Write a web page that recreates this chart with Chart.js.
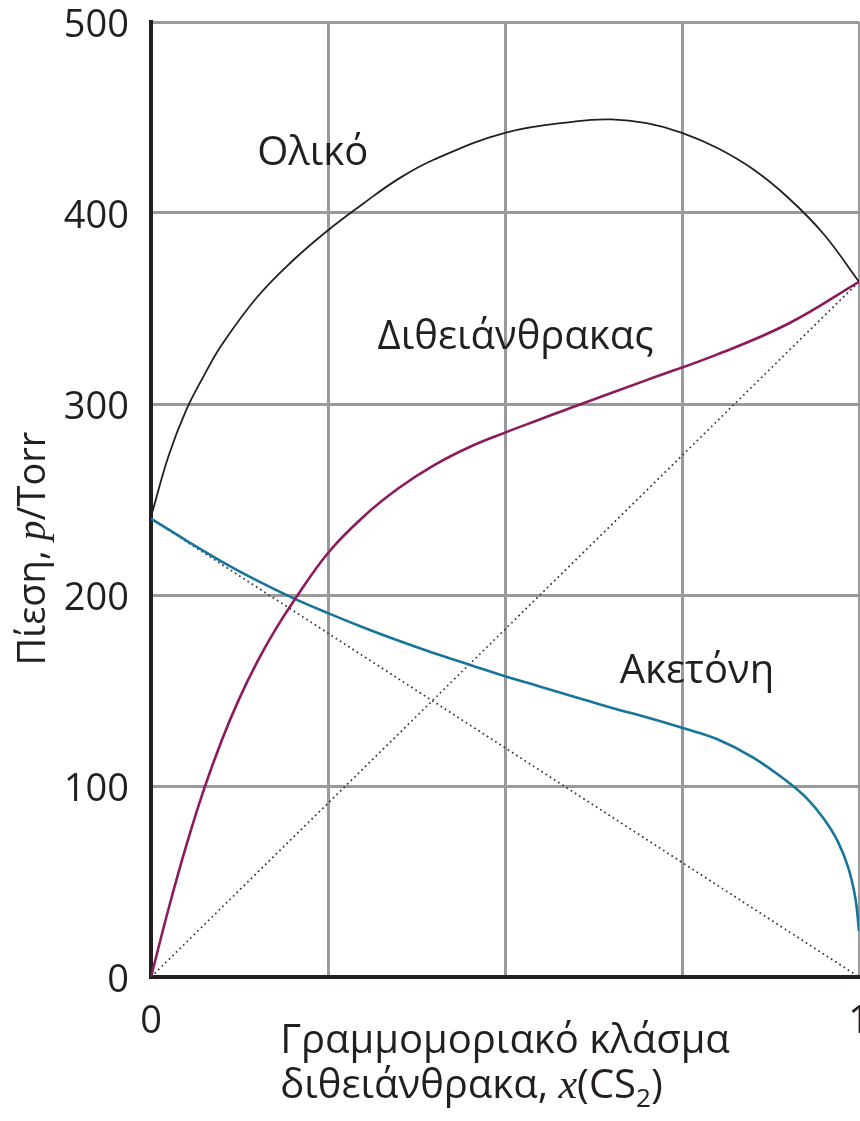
<!DOCTYPE html>
<html lang="el">
<head>
<meta charset="utf-8">
<script src="https://cdn.jsdelivr.net/npm/chart.js@4.4.1/dist/chart.umd.min.js"></script>
<style>
  html, body { margin: 0; padding: 0; background: #ffffff; }
  #wrap { width: 860px; height: 1121px; }
</style>
</head>
<body>
<div id="wrap"><canvas id="chart" width="860" height="1121"></canvas></div>
<script>
// Vapour pressure (Torr) against mole fraction of CS2 in the liquid
const xTotal = [0, 0.025, 0.05, 0.075, 0.1, 0.15, 0.2, 0.25, 0.3, 0.35, 0.4, 0.5, 0.6, 0.65, 0.7, 0.75, 0.8, 0.85, 0.9, 0.95, 1.0];
const pTotal = [241, 273, 297, 315, 331, 356, 375, 391, 405, 418, 428, 442, 448, 449, 447, 442, 434, 423, 408, 389, 364];

const xCS2 = [0, 0.025, 0.05, 0.075, 0.1, 0.125, 0.15, 0.175, 0.2, 0.25, 0.3, 0.35, 0.4, 0.45, 0.5, 0.55, 0.6, 0.7, 0.8, 0.9, 1.0];
const pCS2 = [0, 36, 69, 98.5, 124, 146, 165, 181.5, 196, 222, 241, 256, 268, 277.5, 285, 292, 299, 312.5, 326, 342, 364];

const xAcetone = [0, 0.05, 0.1, 0.15, 0.2, 0.25, 0.3, 0.35, 0.4, 0.45, 0.5, 0.55, 0.6, 0.65, 0.7, 0.75, 0.8, 0.85, 0.9, 0.925, 0.95, 0.97, 0.985, 0.995, 1.0];
const pAcetone = [240, 228.5, 217.5, 207.5, 198.5, 190.5, 183, 176, 169.5, 163.5, 157.5, 152, 146.5, 141, 136, 130.5, 124.5, 115, 102, 94, 83, 71, 57, 41, 24];

// Ideal (Raoult's law) partial pressures
const xIdeal = [0, 1];
const pIdealCS2 = [0, 364];
const pIdealAcetone = [240, 0];

const seriesNames = ['Ολικό', 'Διθειάνθρακας', 'Ακετόνη'];
const xTickLabels = ['0', '', '', '', '1'];
const yTickLabels = ['0', '100', '200', '300', '400', '500'];

const TEXT = '#231f20';
const SANS = '"Open Sans", "Noto Sans", sans-serif';
const SERIF = '"Liberation Serif", "DejaVu Serif", serif';

const pts = (xs, ps) => xs.map((x, i) => ({ x, y: ps[i] }));

// Curve labels: anchor (left, baseline) in data units
const curveLabels = [
  { text: seriesNames[0], x: 0.150, y: 425 },
  { text: seriesNames[1], x: 0.320, y: 329 },
  { text: seriesNames[2], x: 0.662, y: 154 }
];

// Draw a run of differently styled pieces of text, left to right
function drawRuns(ctx, runs, x, y, align) {
  let total = 0;
  runs.forEach(r => { ctx.font = r.font; r.w = ctx.measureText(r.text).width; total += r.w; });
  let cx = align === 'center' ? x - total / 2 : x;
  runs.forEach(r => {
    ctx.font = r.font;
    ctx.fillText(r.text, cx, y + (r.dy || 0));
    cx += r.w;
  });
  return total;
}

const figureText = {
  id: 'figureText',
  afterDraw(chart) {
    const { ctx, chartArea, scales } = chart;
    ctx.save();
    ctx.fillStyle = TEXT;
    ctx.textBaseline = 'alphabetic';
    ctx.textAlign = 'left';

    // curve labels
    curveLabels.forEach(l => {
      ctx.font = '40px ' + SANS;
      ctx.fillText(l.text, scales.x.getPixelForValue(l.x), scales.y.getPixelForValue(l.y));
    });

    // x-axis title, two lines sharing a left edge
    const line1 = [{ text: 'Γραμμομοριακό κλάσμα', font: '40px ' + SANS }];
    ctx.font = line1[0].font;
    const w1 = ctx.measureText(line1[0].text).width;
    const left = (chartArea.left + chartArea.right) / 2 - w1 / 2;
    drawRuns(ctx, line1, left, chartArea.bottom + 76, 'left');
    drawRuns(ctx, [
      { text: 'διθειάνθρακα, ', font: '40px ' + SANS },
      { text: 'x', font: 'italic 42px ' + SERIF },
      { text: '(CS', font: '40px ' + SANS },
      { text: '2', font: '26px ' + SANS, dy: 9 },
      { text: ')', font: '40px ' + SANS }
    ], left, chartArea.bottom + 121, 'left');

    // y-axis title, rotated
    ctx.translate(45, (chartArea.top + chartArea.bottom) / 2 + 49);
    ctx.rotate(-Math.PI / 2);
    drawRuns(ctx, [
      { text: 'Πίεση, ', font: '38px ' + SANS },
      { text: 'p', font: 'italic 40px ' + SERIF },
      { text: '/Torr', font: '38px ' + SANS }
    ], 0, 0, 'center');
    ctx.restore();
  }
};

const curve = { pointRadius: 0, pointHoverRadius: 0, fill: false, tension: 0.4 };
const dotted = { pointRadius: 0, pointHoverRadius: 0, fill: false, tension: 0,
                 borderColor: '#333333', borderWidth: 1.7, borderDash: [1.7, 3.3] };

new Chart(document.getElementById('chart'), {
  type: 'line',
  data: {
    datasets: [
      { ...curve, label: seriesNames[0], data: pts(xTotal, pTotal), borderColor: '#231f20', borderWidth: 1.8 },
      { ...curve, label: seriesNames[1], data: pts(xCS2, pCS2), borderColor: '#8c1a5c', borderWidth: 2.6 },
      { ...curve, label: seriesNames[2], data: pts(xAcetone, pAcetone), borderColor: '#17759b', borderWidth: 2.6 },
      { ...dotted, label: 'ideal CS2', data: pts(xIdeal, pIdealCS2) },
      { ...dotted, label: 'ideal acetone', data: pts(xIdeal, pIdealAcetone) }
    ]
  },
  options: {
    responsive: false,
    animation: false,
    devicePixelRatio: 1,
    layout: { padding: { top: 22, right: 1, bottom: 0, left: 0 } },
    plugins: { legend: { display: false }, tooltip: { enabled: false }, title: { display: false } },
    scales: {
      x: {
        type: 'linear',
        min: 0, max: 1,
        ticks: {
          stepSize: 0.25,
          autoSkip: false,
          maxRotation: 0,
          padding: 22,
          color: TEXT,
          font: { family: SANS, size: 38 },
          callback: (v, i) => xTickLabels[i]
        },
        grid: { color: '#9a9a9c', lineWidth: 3, drawTicks: false },
        border: { display: true, color: '#231f20', width: 4 },
        afterFit(scale) {
          scale.height = 144;
          scale.paddingLeft = 0;
          scale.paddingRight = 0;
        }
      },
      y: {
        min: 0, max: 500,
        ticks: {
          stepSize: 100,
          padding: 22,
          labelOffset: 4,
          color: TEXT,
          font: { family: SANS, size: 38 },
          callback: (v, i) => yTickLabels[i]
        },
        grid: { color: '#9a9a9c', lineWidth: 3, drawTicks: false },
        border: { display: true, color: '#231f20', width: 4 },
        afterFit(scale) {
          scale.width = 151;
          scale.paddingTop = 0;
          scale.paddingBottom = 0;
        }
      }
    }
  },
  plugins: [figureText]
});
</script>
</body>
</html>
